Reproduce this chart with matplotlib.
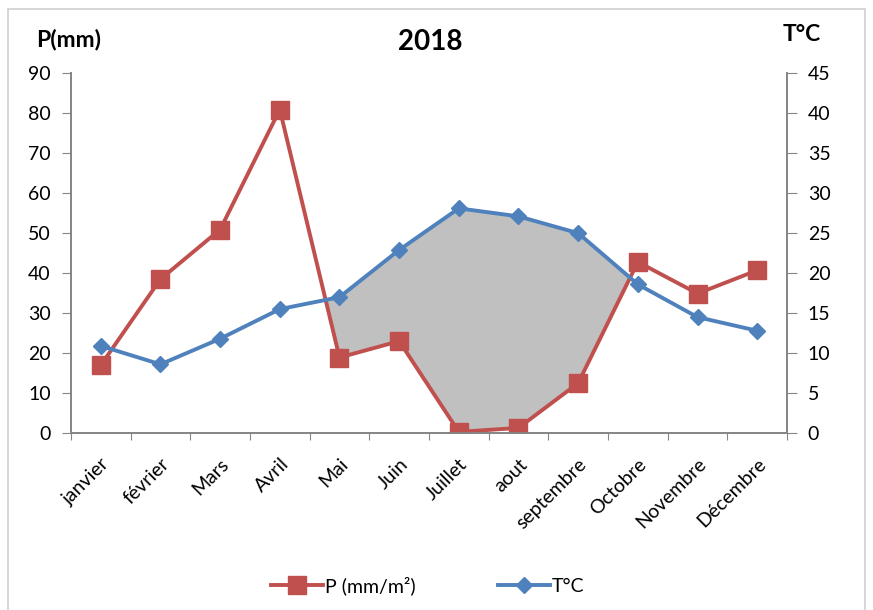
import numpy as np
import matplotlib
matplotlib.use('Agg')
import matplotlib.pyplot as plt
from matplotlib.patches import Rectangle

plt.rcParams['font.family'] = ['Lato', 'DejaVu Sans']

months = ['janvier', 'février', 'Mars', 'Avril', 'Mai', 'Juin', 'Juillet',
          'aout', 'septembre', 'Octobre', 'Novembre', 'Décembre']
precip = [17.0, 38.5, 50.9, 80.9, 18.9, 23.0, 0.3, 1.3, 12.5, 42.8, 34.9, 40.7]
temp = [10.9, 8.6, 11.8, 15.5, 17.0, 22.9, 28.1, 27.1, 25.0, 18.6, 14.5, 12.8]

red = '#C0504D'
blue = '#4F81BD'
axcol = '#868686'


def main():
    fig = plt.figure(figsize=(8.73, 6.10), dpi=100)
    ax = fig.add_axes([0.0813, 0.290, 0.8202, 0.590])
    ax2 = ax.twinx()

    x = np.arange(len(months))
    p = np.array(precip)
    t2 = 2 * np.array(temp)   # T on the P scale (P = 2T)

    # dry season: where 2T lies above P, from May on
    dry = (t2 > p) & (x >= 4)
    ax.fill_between(x, p, t2, where=dry, interpolate=True,
                    color='#c0c0c0', lw=0, zorder=1)

    lp, = ax.plot(x, p, color=red, lw=2.8, marker='s', ms=13,
                  zorder=3, label='P (mm/m²)')
    lt, = ax2.plot(x, temp, color=blue, lw=2.8, marker='D', ms=8,
                   zorder=3, label='T°C')

    ax.set_xlim(-0.5, 11.5)
    ax.set_ylim(0, 90)
    ax2.set_ylim(0, 45)
    ax.set_yticks(np.arange(0, 91, 10))
    ax2.set_yticks(np.arange(0, 46, 5))

    ax.set_xticks(np.arange(-0.5, 12, 1))
    ax.set_xticklabels([])
    ax.set_xticks(x, minor=True)
    ax.set_xticklabels(months, minor=True, rotation=45, ha='right',
                       va='top', rotation_mode='anchor', fontsize=14)
    ax.tick_params(axis='x', which='minor', length=0, pad=16)
    ax.tick_params(axis='x', which='major', length=5, color=axcol)
    ax.tick_params(axis='y', length=6.5, color=axcol, labelsize=14, pad=8)
    ax2.tick_params(axis='y', length=7, color=axcol, labelsize=14, pad=8)

    for a in (ax, ax2):
        a.spines['top'].set_visible(False)
        for s in ('left', 'right', 'bottom'):
            a.spines[s].set_color(axcol)
            a.spines[s].set_linewidth(1.3)
    ax2.set_zorder(ax.get_zorder() + 1)
    ax2.patch.set_visible(False)

    fig.text(0.4926, 0.931, '2018', ha='center', va='center',
             fontsize=20, fontweight='bold')
    fig.text(0.041, 0.936, 'P(mm)', ha='left', va='center',
             fontsize=16.5, fontweight='bold')
    fig.text(0.896, 0.943, 'T°C', ha='left', va='center',
             fontsize=16.5, fontweight='bold')

    fig.legend([lp, lt], ['P (mm/m²)', 'T°C'], loc='center',
               bbox_to_anchor=(0.49, 0.040), ncol=2, frameon=False,
               fontsize=14, handlelength=2.7, columnspacing=4.2,
               handletextpad=0.1)

    fig.patches.append(Rectangle((0.009, -0.05), 0.982, 1.036,
                                 transform=fig.transFigure, fill=False,
                                 ec='#d0d0d0', lw=1.2))

    fig.savefig('out.png', dpi=100)


if __name__ == '__main__':
    main()
